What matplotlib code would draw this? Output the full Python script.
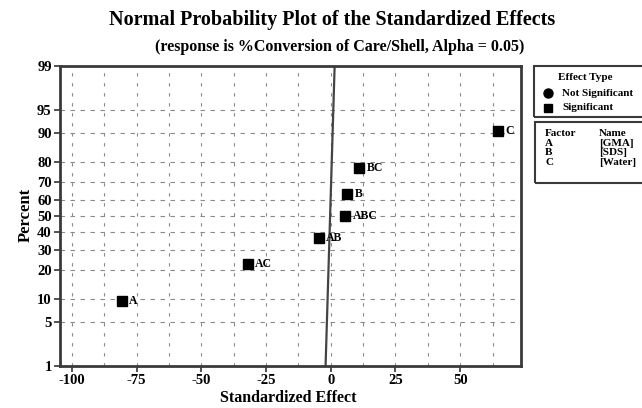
import numpy as np
import matplotlib
matplotlib.use("Agg")
from matplotlib import pyplot as plt
from matplotlib.patches import Rectangle
from statistics import NormalDist

# Effects
effect_names = ["A", "AC", "AB", "ABC", "B", "BC", "C"]
effect_values = [-80.8, -32.1, -4.7, 5.5, 6.4, 10.9, 64.6]
effect_percent = [9.5, 23.0, 36.5, 50.0, 63.5, 77.0, 90.5]

# reference line (percent scale)
line_x = [-2.0, 1.5]
line_percent = [1, 99]

percent_ticks = [1, 5, 10, 20, 30, 40, 50, 60, 70, 80, 90, 95, 99]
x_ticks = [-100, -75, -50, -25, 0, 25, 50]

factors = ["A", "B", "C"]
factor_names = ["[GMA]", "[SDS]", "[Water]"]

nd = NormalDist()
def probit(p):
    return [nd.inv_cdf(v / 100.0) for v in p]

plt.rcParams['font.family'] = ['Liberation Serif', 'DejaVu Serif']
plt.rcParams['font.weight'] = 'bold'

W, H = 642, 408
fig = plt.figure(figsize=(W / 100, H / 100), dpi=100)
ax = fig.add_axes([60 / W, 1 - 366 / H, (521 - 60) / W, (366 - 66) / H])

# grid
for x in np.arange(-100, 63, 12.5):
    ax.axvline(x, color='#8a8a8a', lw=0.8, ls=(0, (3, 6)), zorder=0)
for z in probit(percent_ticks[1:-1]):
    ax.axhline(z, color='#8a8a8a', lw=0.8, ls=(0, (4, 5)), zorder=0)

ax.plot(line_x, probit(line_percent), color='#444444', lw=1.6, zorder=2)
ax.plot(effect_values, probit(effect_percent), 's', color='black',
        markersize=7, zorder=3)
for name, x, z in zip(effect_names, effect_values, probit(effect_percent)):
    ax.annotate(name, (x, z), xytext=(5.5, 0), textcoords='offset points',
                va='center', ha='left', fontsize=8.5, fontweight='bold')

ax.set_xlim(-104.6, 73.5)
lo, hi = probit([1, 99])
ax.set_ylim(lo, hi)
ax.set_xticks(x_ticks)
ax.set_xticklabels([str(v) for v in x_ticks])
ax.set_yticks(probit(percent_ticks))
ax.set_yticklabels([str(v) for v in percent_ticks])
ax.tick_params(labelsize=10.5, width=1.2, length=4, color='#333333', pad=2)
for s in ax.spines.values():
    s.set_linewidth(2)
    s.set_color('#3a3a3a')

fig.text(332 / W, 1 - 20 / H, "Normal Probability Plot of the Standardized Effects",
         ha='center', va='center', fontsize=14.5, fontweight='bold')
fig.text(340 / W, 1 - 47 / H, "(response is %Conversion of Care/Shell, Alpha = 0.05)",
         ha='center', va='center', fontsize=11.5, fontweight='bold')
fig.text(26 / W, 1 - 215 / H, "Percent", rotation=90, ha='center', va='center',
         fontsize=12, fontweight='bold')
fig.text(288 / W, 1 - 398 / H, "Standardized Effect", ha='center', va='center',
         fontsize=11.5, fontweight='bold')

# legend boxes
def px(x, y):
    return x / W, 1 - y / H

for (x0, y0, y1) in [(534, 66, 117), (535, 122, 183)]:
    fig.patches.append(Rectangle(px(x0, y1), 130 / W, (y1 - y0) / H,
                                 transform=fig.transFigure, fill=False,
                                 edgecolor='#3a3a3a', lw=1.5))
fig.text(*px(585, 77), "Effect Type", ha='center', va='center', fontsize=8, fontweight='bold')
fig.lines.append(plt.Line2D([548 / W], [1 - 93 / H], marker='o', color='black',
                            markersize=6.5, transform=fig.transFigure))
fig.lines.append(plt.Line2D([548 / W], [1 - 108 / H], marker='s', color='black',
                            markersize=6, transform=fig.transFigure))
fig.text(*px(562, 93), "Not Significant", ha='left', va='center', fontsize=8, fontweight='bold')
fig.text(*px(562, 108), "Significant", ha='left', va='center', fontsize=8, fontweight='bold')

fig.text(*px(545, 133), "Factor", ha='left', va='center', fontsize=8, fontweight='bold')
fig.text(*px(599, 133), "Name", ha='left', va='center', fontsize=8, fontweight='bold')
for i, (f, n) in enumerate(zip(factors, factor_names)):
    y = 143 + i * 9.8
    fig.text(*px(545, y), f, ha='left', va='center', fontsize=8, fontweight='bold')
    fig.text(*px(599, y), n, ha='left', va='center', fontsize=8, fontweight='bold')

fig.savefig("out.png", dpi=100)
